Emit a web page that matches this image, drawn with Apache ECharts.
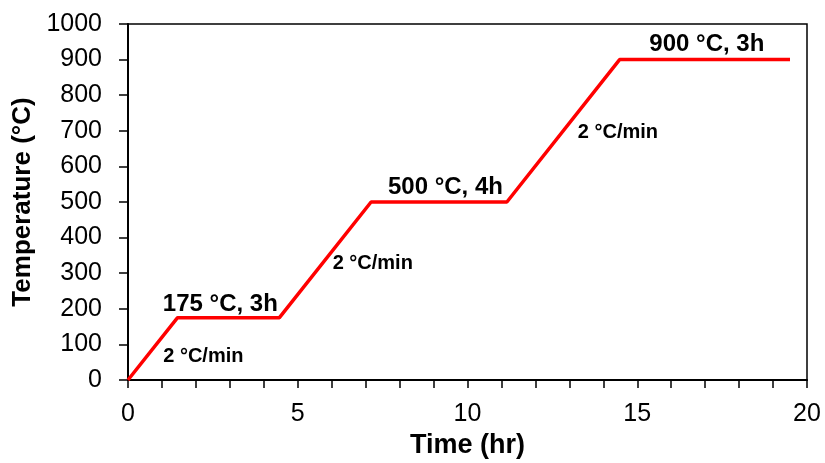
<!DOCTYPE html>
<html>
<head>
<meta charset="utf-8">
<script src="https://cdn.jsdelivr.net/npm/echarts@6/dist/echarts.min.js"></script>
<style>
  html, body { margin: 0; padding: 0; background: #fff; }
  #chart { width: 825px; height: 463px; }
</style>
</head>
<body>
<div id="chart"></div>
<script>
// Heating profile: time (hr) vs. furnace temperature (°C)
const timeHr = [0, 1.46, 4.46, 7.16, 11.16, 14.48, 19.5];
const tempC = [0, 175, 175, 500, 500, 900, 900];

// Step annotations, anchored in data coordinates
const noteText = ['175 °C, 3h', '500 °C, 4h', '900 °C, 3h', '2 °C/min', '2 °C/min', '2 °C/min'];
const noteX = [2.72, 9.35, 17.05, 2.22, 7.21, 14.43];
const noteY = [213, 542, 944, 67, 326, 694];
const noteBig = [true, true, true, false, false, false];

const yTicks = { min: 0, max: 1000, interval: 100 };
const xTicks = { min: 0, max: 20, interval: 5 };

const FONT = '"Liberation Sans", Arial, sans-serif';

const chart = echarts.init(document.getElementById('chart'), null, { renderer: 'canvas' });

chart.setOption({
  animation: false,
  backgroundColor: '#fff',
  grid: {
    left: 128, right: 18, top: 24, bottom: 83,
    containLabel: false,
    outerBoundsMode: 'none',
    show: true, borderColor: '#000', borderWidth: 1.5
  },
  xAxis: {
    type: 'value',
    min: xTicks.min, max: xTicks.max, interval: xTicks.interval,
    name: 'Time (hr)',
    nameLocation: 'middle',
    nameGap: 51,
    nameTextStyle: { fontFamily: FONT, fontSize: 27, fontWeight: 'bold', color: '#000' },
    axisLine: { show: true, onZero: false, lineStyle: { color: '#000', width: 2 } },
    axisTick: { show: true, length: 8, lineStyle: { color: '#000', width: 1.5 } },
    minorTick: { show: true, splitNumber: 5, length: 8, lineStyle: { color: '#000', width: 1.5 } },
    splitLine: { show: false },
    axisLabel: { fontFamily: FONT, fontSize: 25, color: '#000', margin: 22, formatter: v => String(v) }
  },
  yAxis: {
    type: 'value',
    min: yTicks.min, max: yTicks.max, interval: yTicks.interval,
    name: 'Temperature (°C)',
    nameLocation: 'middle',
    nameGap: 92,
    nameTextStyle: { fontFamily: FONT, fontSize: 26, fontWeight: 'bold', color: '#000' },
    axisLine: { show: true, onZero: false, lineStyle: { color: '#000', width: 2 } },
    axisTick: { show: true, length: 9, lineStyle: { color: '#000', width: 1.5 } },
    splitLine: { show: false },
    axisLabel: { fontFamily: FONT, fontSize: 25, color: '#000', margin: 26, formatter: v => String(v) }
  },
  series: [
    {
      type: 'line',
      data: timeHr.map((t, i) => [t, tempC[i]]),
      symbol: 'none',
      lineStyle: { color: '#ff0000', width: 3.5 },
      z: 3
    },
    {
      type: 'scatter',
      symbolSize: 0,
      silent: true,
      itemStyle: { opacity: 1 },
      data: noteText.map((txt, i) => ({
        value: [noteX[i], noteY[i]],
        label: {
          show: true,
          position: 'inside',
          formatter: txt,
          fontFamily: FONT,
          fontWeight: 'bold',
          fontSize: noteBig[i] ? 24 : 20,
          color: '#000',
          opacity: 1,
          textBorderWidth: 0
        }
      })),
      z: 4
    }
  ]
});
</script>
</body>
</html>
